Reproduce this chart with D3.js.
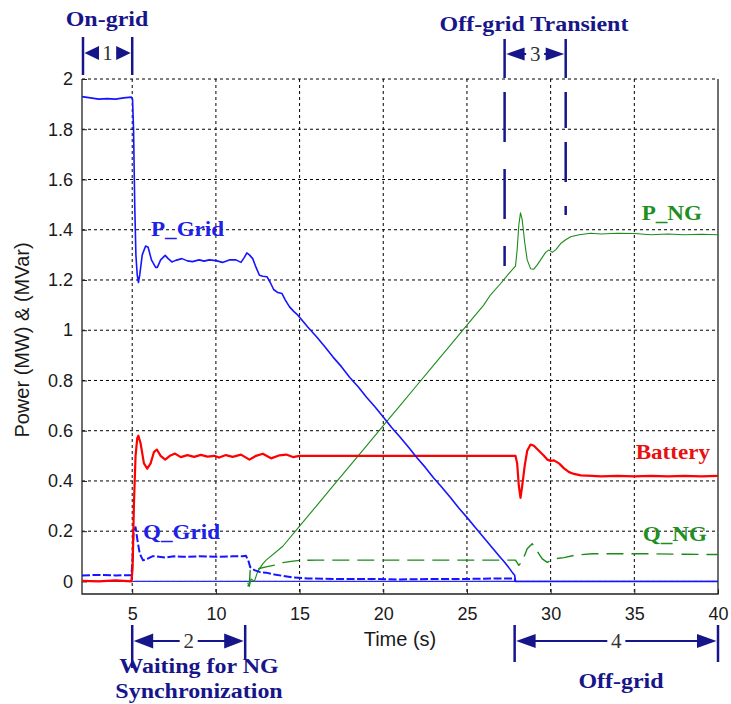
<!DOCTYPE html>
<html><head><meta charset="utf-8">
<script src="https://cdn.jsdelivr.net/npm/d3@7/dist/d3.min.js"></script>
<style>body{margin:0;background:#fff}</style>
</head><body>
<svg id="c" width="731" height="704"></svg>
<script>
// ---------- data ----------
const xTicks = [5,10,15,20,25,30,35,40];
const yTicks = [0,0.2,0.4,0.6,0.8,1,1.2,1.4,1.6,1.8,2];
const yTickLabels = ["0","0.2","0.4","0.6","0.8","1","1.2","1.4","1.6","1.8","2"];

const pGrid = [[2,1.93],[2.5,1.925],[3,1.92],[3.5,1.922],[4,1.92],[4.5,1.925],[4.95,1.928],[5.02,1.92],[5.08,1.8],[5.15,1.5],[5.22,1.3],[5.3,1.22],[5.37,1.19],[5.45,1.22],[5.6,1.3],[5.8,1.335],[5.95,1.33],[6.15,1.28],[6.4,1.25],[6.5,1.25],[6.7,1.28],[6.97,1.298],[7.15,1.285],[7.37,1.272],[7.6,1.278],[7.97,1.285],[8.3,1.276],[8.6,1.273],[9.0,1.28],[9.3,1.275],[9.6,1.28],[10.0,1.277],[10.4,1.27],[10.8,1.28],[11.2,1.28],[11.5,1.27],[11.7,1.29],[11.85,1.308],[12.0,1.3],[12.2,1.285],[12.4,1.25],[12.6,1.219],[12.8,1.215],[13.05,1.213],[13.25,1.19],[13.45,1.162],[13.7,1.15],[13.95,1.146],[14.15,1.12],[14.4,1.093],[14.65,1.075],[14.9,1.06],[15.5,1.012],[16,0.975],[16.5,0.935],[17,0.893],[17.5,0.855],[18,0.812],[18.5,0.775],[19,0.733],[19.5,0.695],[20,0.655],[20.5,0.613],[21,0.575],[21.5,0.535],[22,0.493],[22.5,0.455],[23,0.413],[23.5,0.375],[24,0.335],[24.5,0.293],[25,0.255],[25.5,0.215],[26,0.175],[26.5,0.135],[27,0.095],[27.2,0.08],[27.5,0.055],[27.7,0.037],[27.85,0.025],[27.9,0],[40,0]];

const qGrid = [[2,0.024],[3,0.026],[4,0.024],[4.95,0.025],[5.02,0.08],[5.08,0.2],[5.2,0.216],[5.3,0.17],[5.45,0.11],[5.65,0.084],[5.9,0.09],[6.2,0.1],[6.45,0.1],[7,0.095],[7.5,0.1],[8,0.098],[9,0.1],[10,0.098],[11,0.1],[11.6,0.1],[11.8,0.102],[11.95,0.08],[12.05,0.057],[12.3,0.045],[12.65,0.037],[13,0.035],[13.5,0.028],[14,0.022],[14.6,0.016],[15.5,0.012],[17,0.01],[19,0.01],[21,0.008],[23,0.01],[25,0.01],[27,0.012],[27.85,0.012],[27.9,0]];

const battery = [[2,0.002],[3,0.0],[4,0.004],[4.95,0.0],[5.02,0.05],[5.1,0.3],[5.2,0.5],[5.3,0.57],[5.37,0.58],[5.5,0.55],[5.7,0.47],[5.9,0.449],[6.1,0.47],[6.3,0.515],[6.47,0.525],[6.7,0.5],[6.97,0.485],[7.25,0.5],[7.56,0.509],[7.9,0.495],[8.3,0.503],[8.7,0.496],[9.1,0.504],[9.5,0.497],[9.9,0.5],[10.2,0.493],[10.6,0.503],[11.0,0.496],[11.5,0.505],[12,0.485],[12.4,0.5],[12.8,0.508],[13.3,0.49],[13.8,0.502],[14.2,0.505],[14.6,0.495],[15,0.5],[16,0.5],[18,0.5],[20,0.5],[22,0.5],[24,0.5],[26,0.5],[27.9,0.5],[28.0,0.47],[28.1,0.38],[28.2,0.333],[28.3,0.38],[28.45,0.46],[28.6,0.52],[28.8,0.545],[29.0,0.54],[29.3,0.52],[29.6,0.5],[29.8,0.485],[30.0,0.48],[30.2,0.482],[30.5,0.47],[30.8,0.45],[31.1,0.435],[31.4,0.428],[31.8,0.422],[32.5,0.42],[33,0.418],[34,0.42],[35,0.418],[36,0.42],[37,0.418],[38,0.42],[39,0.418],[40,0.42]];

const pNG = [[11.9,-0.005],[12.0,-0.02],[12.1,0.01],[12.3,0.0],[12.5,0.04],[12.8,0.07],[13,0.085],[14,0.14],[15,0.22],[16,0.3],[17,0.38],[18,0.46],[19,0.54],[20,0.62],[21,0.70],[22,0.78],[23,0.86],[24,0.94],[25,1.02],[26,1.1],[26.4,1.14],[27,1.185],[27.5,1.225],[27.9,1.255],[28.0,1.32],[28.1,1.42],[28.2,1.467],[28.3,1.44],[28.45,1.35],[28.6,1.28],[28.8,1.245],[29.0,1.243],[29.2,1.26],[29.5,1.29],[29.7,1.31],[29.9,1.32],[30.1,1.31],[30.3,1.32],[30.6,1.345],[30.9,1.36],[31.2,1.372],[31.7,1.38],[32.4,1.386],[33,1.383],[34,1.386],[35,1.385],[36,1.38],[37,1.383],[38,1.38],[39,1.382],[40,1.38]];

const qNG = [[11.9,-0.02],[12.0,-0.01],[12.05,0.045],[12.5,0.05],[13,0.058],[13.5,0.065],[14,0.075],[14.5,0.08],[15,0.084],[16,0.085],[20,0.085],[24,0.085],[27.9,0.085],[28.1,0.064],[28.3,0.08],[28.6,0.13],[28.9,0.15],[29.2,0.12],[29.5,0.09],[29.8,0.076],[30.2,0.09],[30.8,0.095],[31.5,0.105],[32.5,0.11],[34,0.11],[36,0.11],[38,0.108],[40,0.107]];

const zeroLine = [[2,0],[40,0]];

// period brackets: [start, end, label]
const periodsTop = [[2,5,"1"],[27.25,30.9,"3"]];
const periodsBottom = [[5,11.75,"2"],[27.85,40,"4"]];

// ---------- layout ----------
const svg = d3.select("#c");
const L=82, R=718, T=79, B=594;
const x = d3.scaleLinear().domain([2,40]).range([L,R]);
const y = d3.scaleLinear().domain([-0.05,2]).range([B,T]);
const navy = "#16168a";
const serif = "'Liberation Serif','Times New Roman',serif";
const sans = "'Liberation Sans',Arial,sans-serif";

// grid
const g = svg.append("g");
g.selectAll(".vg").data(xTicks.filter(d=>d<40)).enter().append("line")
  .attr("x1",d=>x(d)).attr("x2",d=>x(d)).attr("y1",T).attr("y2",B)
  .attr("stroke","#000").attr("stroke-width",1).attr("stroke-dasharray","3,3");
g.selectAll(".hg").data(yTicks).enter().append("line")
  .attr("x1",L).attr("x2",R).attr("y1",d=>y(d)).attr("y2",d=>y(d))
  .attr("stroke","#000").attr("stroke-width",1).attr("stroke-dasharray","3,3");

// borders (left, bottom, right solid)
svg.append("path").attr("d",`M${L},${T}V${B}H${R}V${T}`).attr("fill","none")
  .attr("stroke","#222").attr("stroke-width",1.3);

// axes
const ya = svg.append("g").attr("transform",`translate(${L},0)`)
  .call(d3.axisLeft(y).tickValues(yTicks).tickFormat((d,i)=>yTickLabels[i]).tickSize(-5).tickPadding(9));
const xa = svg.append("g").attr("transform",`translate(0,${B})`)
  .call(d3.axisBottom(x).tickValues(xTicks).tickSize(-5).tickPadding(13));
[ya,xa].forEach(a=>{
  a.select(".domain").remove();
  a.selectAll("text").attr("font-family",sans).attr("font-size",18).attr("fill","#1a1a1a");
  a.selectAll("line").attr("stroke","#222");
});
svg.append("text").attr("x",400).attr("y",646).attr("text-anchor","middle")
  .attr("font-family",sans).attr("font-size",20).attr("fill","#1a1a1a").text("Time (s)");
svg.append("text").attr("transform","translate(29,340) rotate(-90)").attr("text-anchor","middle")
  .attr("font-family",sans).attr("font-size",20).attr("fill","#1a1a1a").text("Power  (MW) & (MVar)");

// series
const line = d3.line().x(d=>x(d[0])).y(d=>y(d[1]));
const series = [
  {d:zeroLine, c:"#2a2aff", w:1.3, dash:null},
  {d:pNG, c:"#1a8c1a", w:1.1, dash:null},
  {d:qNG, c:"#1a8c1a", w:1.4, dash:"17,8"},
  {d:qGrid, c:"#1515ff", w:2, dash:"8,2.5"},
  {d:battery, c:"#ff0000", w:2.2, dash:null},
  {d:pGrid, c:"#1515ff", w:1.6, dash:null}
];
series.forEach(s=>{
  svg.append("path").attr("d",line(s.d)).attr("fill","none").attr("stroke",s.c)
    .attr("stroke-width",s.w).attr("stroke-linejoin","round")
    .attr("stroke-dasharray",s.dash);
});

// series labels
const labels = [
  ["P_Grid",151,236,"#2020e6","start"],
  ["Q_Grid",143,539,"#2020e6","start"],
  ["Battery",710,459,"#e81010","end"],
  ["P_NG",702,220,"#1f8f1f","end"],
  ["Q_NG",707,541,"#1f8f1f","end"]
];
labels.forEach(l=>{
  svg.append("text").attr("transform",`translate(${l[1]},${l[2]}) scale(1.05,1)`).attr("text-anchor",l[4])
    .attr("font-family",serif).attr("font-weight","bold").attr("font-size",22)
    .attr("fill",l[3]).text(l[0]);
});

// brackets
function bracket(x1,x2,yArrow,yTop,yBot1,yBot2,lab,headLen,headH){
  const a = svg.append("g");
  [[x1,yBot1],[x2,yBot2]].forEach(p=>a.append("line").attr("x1",p[0]).attr("x2",p[0]).attr("y1",yTop).attr("y2",p[1])
    .attr("stroke",navy).attr("stroke-width",2.5));
  const mid=(x1+x2)/2, gap=9;
  a.append("line").attr("x1",x1+headLen-2).attr("x2",mid-gap).attr("y1",yArrow).attr("y2",yArrow).attr("stroke",navy).attr("stroke-width",2);
  a.append("line").attr("x1",mid+gap).attr("x2",x2-headLen+2).attr("y1",yArrow).attr("y2",yArrow).attr("stroke",navy).attr("stroke-width",2);
  a.append("path").attr("d",`M${x1+1.5},${yArrow}L${x1+headLen},${yArrow-headH/2}L${x1+headLen},${yArrow+headH/2}Z`).attr("fill",navy);
  a.append("path").attr("d",`M${x2-1.5},${yArrow}L${x2-headLen},${yArrow-headH/2}L${x2-headLen},${yArrow+headH/2}Z`).attr("fill",navy);
  a.append("text").attr("x",mid).attr("y",yArrow+7).attr("text-anchor","middle")
    .attr("font-family",serif).attr("font-size",21).attr("fill","#333").text(lab);
}
bracket(x(periodsTop[0][0])+1,x(periodsTop[0][1]),53,37,75,75,periodsTop[0][2],16,14);
bracket(x(periodsTop[1][0]),x(periodsTop[1][1]),54,39,78,78,periodsTop[1][2],20,13);
bracket(x(periodsBottom[0][0]),x(periodsBottom[0][1]),641,625,668,659,periodsBottom[0][2],21,15);
bracket(x(periodsBottom[1][0]),x(periodsBottom[1][1]),641,625,662,662,periodsBottom[1][2],21,14);

// dashed extensions of the transient bracket
svg.append("line").attr("x1",x(periodsTop[1][0])).attr("x2",x(periodsTop[1][0])).attr("y1",78).attr("y2",266)
  .attr("stroke",navy).attr("stroke-width",2.5).attr("stroke-dasharray","0,14,50,13");
svg.append("line").attr("x1",x(periodsTop[1][1])).attr("x2",x(periodsTop[1][1])).attr("y1",78).attr("y2",215)
  .attr("stroke",navy).attr("stroke-width",2.5).attr("stroke-dasharray","0,14,36,14,40,10");

// annotation texts
const ann = [
  ["On-grid",107,26],
  ["Off-grid Transient",534,31],
  ["Waiting for NG",199,673],
  ["Synchronization",199,698],
  ["Off-grid",621,688]
];
ann.forEach(a=>{
  svg.append("text").attr("transform",`translate(${a[1]},${a[2]}) scale(1.09,1)`).attr("text-anchor","middle")
    .attr("font-family",serif).attr("font-weight","bold").attr("font-size",22)
    .attr("fill",navy).text(a[0]);
});
</script>
</body></html>
